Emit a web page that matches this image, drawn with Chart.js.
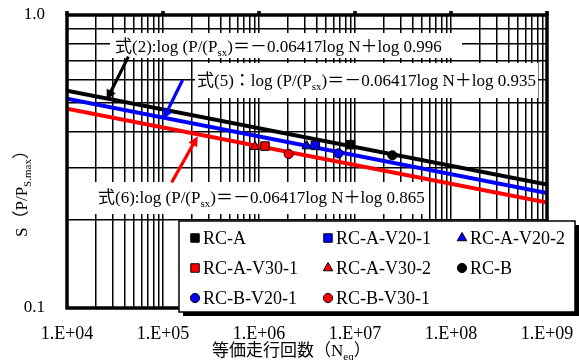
<!DOCTYPE html>
<html>
<head>
<meta charset="utf-8">
<script src="https://cdn.jsdelivr.net/npm/chart.js@4/dist/chart.umd.min.js"></script>
<style>
  html, body { margin: 0; padding: 0; background: #fff; }
  canvas { display: block; }
</style>
</head>
<body>
<canvas id="grafica" width="579" height="360"></canvas>
<script>
// --- DATOS ---
const xDecadas = [1e4, 1e5, 1e6, 1e7, 1e8, 1e9];
const xEtiquetas = ['1.E+04', '1.E+05', '1.E+06', '1.E+07', '1.E+08', '1.E+09'];
const yDecadas = [0.1, 1];
const yEtiquetas = ['0.1', '1.0'];

const rectaN = [1e4, 1e9];
const recta2S = [0.552, 0.264];
const recta5S = [0.518, 0.247];
const recta6S = [0.479, 0.229];

// ensayos
const series = ['RC-A', 'RC-A-V20-1', 'RC-A-V20-2', 'RC-A-V30-1', 'RC-A-V30-2', 'RC-B', 'RC-B-V20-1', 'RC-B-V30-1'];
const serieN = [9.0e6, 3.86e6, 3.14e6, 1.155e6, 9.08e5, 2.45e7, 6.7e6, 2.04e6];
const serieS = [0.361, 0.359, 0.357, 0.357, 0.355, 0.332, 0.337, 0.3355];

// flechas (N, S) inicio -> punta
const flechaDesde = [[4.36e4, 0.721], [1.60e5, 0.600], [1.23e5, 0.268]];
const flechaHasta = [[2.59e4, 0.513], [1.007e5, 0.441], [2.30e5, 0.386]];

// --- ESTILO ---
const NEGRO = '#000000', AZUL = '#0000ff', ROJO = '#ff0000';
const colorSerie = [NEGRO, AZUL, AZUL, ROJO, ROJO, NEGRO, AZUL, ROJO];
const formaSerie = ['rect', 'rect', 'triangle', 'rect', 'triangle', 'circle', 'circle', 'circle'];
const radioForma = { rect: 6, triangle: 5.5, circle: 4.6 };
const colorFlecha = [NEGRO, AZUL, ROJO];
const SERIF = '"Liberation Serif", "Noto Sans CJK JP", serif';

const ECUACIONES = [
  { x: 115, y: 52, partes: [{ t: '式(2):log (P/(P' }, { t: 'sx', sub: true }, { t: ')＝－0.06417log N＋log 0.996' }] },
  { x: 197, y: 86, partes: [{ t: '式(5)：log (P/(P' }, { t: 'sx', sub: true }, { t: ')＝－0.06417log N＋log 0.935' }] },
  { x: 98, y: 203, partes: [{ t: '式(6):log (P/(P' }, { t: 'sx', sub: true }, { t: ')＝－0.06417log N＋log 0.865' }] }
];
const CAJAS = [
  { x: 110, y: 33, w: 352, h: 25 },
  { x: 195, y: 63, w: 343, h: 35 },
  { x: 90, y: 182, w: 337, h: 32 }
];
const LEYENDA = { x: 179, y: 221, w: 396, h: 91, sombra: 4, colX: [16, 149, 283], filaY: [17, 47, 77] };

function xGrid() {
  const v = [];
  for (let d = 0; d < xDecadas.length - 1; d++)
    for (let m = 1; m <= 9; m++) v.push(m * xDecadas[d]);
  v.push(xDecadas[xDecadas.length - 1]);
  return v;
}
function yGrid() {
  const v = [];
  for (let m = 1; m <= 9; m++) v.push(Math.round(m * 10) / 100);
  v.push(1);
  return v;
}

function textoRico(ctx, partes, x, y, size) {
  let cx = x;
  partes.forEach(p => {
    const s = p.sub ? Math.round(size * 0.65) : size;
    ctx.font = s + 'px ' + SERIF;
    ctx.fillText(p.t, cx, p.sub ? y + size * 0.25 : y);
    cx += ctx.measureText(p.t).width;
  });
  return cx - x;
}

function flecha(ctx, x1, y1, x2, y2, color) {
  const a = Math.atan2(y2 - y1, x2 - x1);
  const largo = 10, ancho = 5;
  ctx.strokeStyle = color; ctx.fillStyle = color; ctx.lineWidth = 3.2;
  ctx.beginPath();
  ctx.moveTo(x1, y1);
  ctx.lineTo(x2 - Math.cos(a) * largo * 0.8, y2 - Math.sin(a) * largo * 0.8);
  ctx.stroke();
  ctx.beginPath();
  ctx.moveTo(x2, y2);
  ctx.lineTo(x2 - Math.cos(a) * largo - Math.sin(a) * ancho, y2 - Math.sin(a) * largo + Math.cos(a) * ancho);
  ctx.lineTo(x2 - Math.cos(a) * largo + Math.sin(a) * ancho, y2 - Math.sin(a) * largo - Math.cos(a) * ancho);
  ctx.closePath();
  ctx.fill();
}

const decoracion = {
  id: 'decoracion',
  beforeDatasetsDraw(chart) {
    const ctx = chart.ctx;
    ctx.save();
    ctx.fillStyle = '#fff';
    CAJAS.forEach(b => ctx.fillRect(b.x, b.y, b.w, b.h));
    ctx.restore();
  },
  afterDatasetsDraw(chart) {
    const ctx = chart.ctx, a = chart.chartArea;
    const sx = chart.scales.x, sy = chart.scales.y;
    ctx.save();

    // marco y marcas superiores
    ctx.strokeStyle = NEGRO; ctx.lineWidth = 3.5;
    ctx.strokeRect(a.left, a.top, a.right - a.left, a.bottom - a.top);
    ctx.beginPath();
    xDecadas.forEach(v => {
      const px = sx.getPixelForValue(v);
      ctx.moveTo(px, a.top); ctx.lineTo(px, a.top - 4);
    });
    ctx.stroke();

    // flechas
    flechaDesde.forEach((d, i) => {
      const h = flechaHasta[i];
      flecha(ctx, sx.getPixelForValue(d[0]), sy.getPixelForValue(d[1]),
        sx.getPixelForValue(h[0]), sy.getPixelForValue(h[1]), colorFlecha[i]);
    });

    // ecuaciones
    ctx.fillStyle = NEGRO; ctx.textBaseline = 'alphabetic'; ctx.textAlign = 'left';
    ECUACIONES.forEach(e => textoRico(ctx, e.partes, e.x, e.y, 17));

    // leyenda
    const L = LEYENDA;
    ctx.fillStyle = NEGRO;
    ctx.fillRect(L.x + L.sombra, L.y + L.sombra, L.w, L.h);
    ctx.fillStyle = '#fff';
    ctx.fillRect(L.x, L.y, L.w, L.h);
    ctx.lineWidth = 1.5; ctx.strokeStyle = NEGRO;
    ctx.strokeRect(L.x, L.y, L.w, L.h);
    ctx.font = '18px ' + SERIF; ctx.textBaseline = 'middle';
    series.forEach((nombre, i) => {
      const mx = L.x + L.colX[i % 3], my = L.y + L.filaY[Math.floor(i / 3)];
      ctx.fillStyle = colorSerie[i]; ctx.strokeStyle = NEGRO; ctx.lineWidth = 1;
      Chart.helpers.drawPoint(ctx, { pointStyle: formaSerie[i], radius: radioForma[formaSerie[i]], rotation: 0, borderWidth: 1 }, mx, my);
      ctx.fillStyle = NEGRO;
      ctx.fillText(nombre, mx + 8, my + 1);
    });

    // títulos de ejes
    ctx.textBaseline = 'alphabetic';
    textoRico(ctx, [{ t: '等価走行回数（N' }, { t: 'eq', sub: true }, { t: '）' }], 212, 356, 17);
    ctx.translate(27, 237);
    ctx.rotate(-Math.PI / 2);
    textoRico(ctx, [{ t: 'S（P/P' }, { t: 'S.max', sub: true }, { t: '）' }], 0, 0, 17);
    ctx.restore();
  }
};

const datasets = [
  { data: rectaN.map((n, i) => ({ x: n, y: recta2S[i] })), borderColor: NEGRO },
  { data: rectaN.map((n, i) => ({ x: n, y: recta5S[i] })), borderColor: AZUL },
  { data: rectaN.map((n, i) => ({ x: n, y: recta6S[i] })), borderColor: ROJO }
].map(d => Object.assign(d, { showLine: true, borderWidth: 4, pointRadius: 0, order: 1 }));

series.forEach((nombre, i) => datasets.push({
  label: nombre,
  data: [{ x: serieN[i], y: serieS[i] }],
  pointStyle: formaSerie[i],
  pointRadius: radioForma[formaSerie[i]],
  backgroundColor: colorSerie[i],
  borderColor: NEGRO,
  borderWidth: 1,
  order: 0
}));

new Chart(document.getElementById('grafica'), {
  type: 'scatter',
  data: { datasets },
  options: {
    responsive: false,
    devicePixelRatio: 1,
    animation: false,
    layout: { padding: { top: 15, right: 32, left: 0, bottom: 0 } },
    plugins: { legend: { display: false }, tooltip: { enabled: false } },
    scales: {
      x: {
        type: 'logarithmic', min: 1e4, max: 1e9,
        afterBuildTicks: s => { s.ticks = xGrid().map(v => ({ value: v })); },
        afterFit: s => { s.height = 52; s.paddingLeft = 0; s.paddingRight = 0; },
        grid: { color: NEGRO, lineWidth: 1.5, drawTicks: false },
        border: { display: false },
        ticks: {
          autoSkip: false, maxRotation: 0, minRotation: 0, padding: 15, color: NEGRO,
          font: { family: SERIF, size: 18 },
          callback: v => { const i = xDecadas.indexOf(v); return i >= 0 ? xEtiquetas[i] : ''; }
        }
      },
      y: {
        type: 'logarithmic', min: 0.1, max: 1,
        afterBuildTicks: s => { s.ticks = yGrid().map(v => ({ value: v })); },
        afterFit: s => { s.width = 67; s.paddingTop = 0; s.paddingBottom = 0; },
        grid: { color: NEGRO, lineWidth: 1.5, drawTicks: false },
        border: { display: false },
        ticks: {
          autoSkip: false, padding: 22, color: NEGRO,
          font: { family: SERIF, size: 17 },
          callback: v => { const i = yDecadas.indexOf(v); return i >= 0 ? yEtiquetas[i] : ''; }
        }
      }
    }
  },
  plugins: [decoracion]
});
</script>
</body>
</html>
